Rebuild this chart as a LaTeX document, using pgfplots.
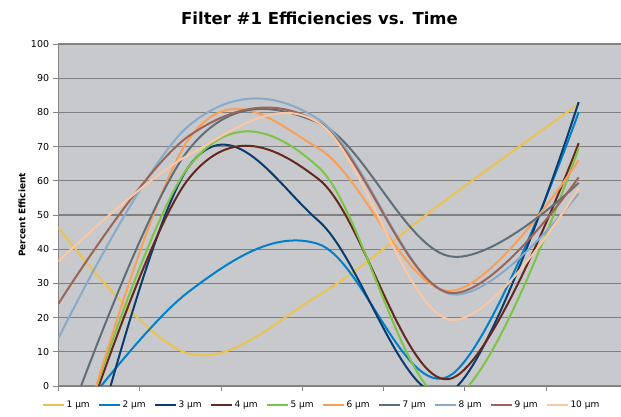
\documentclass[border=0pt]{standalone}
\usepackage{pgfplots}
\pgfplotsset{compat=1.18}
\usepackage{fontspec}
\setmainfont{DejaVu Sans}
\definecolor{plotbg}{RGB}{200,201,204}
\definecolor{gridgray}{RGB}{128,128,128}
\definecolor{axisgray}{RGB}{134,134,134}
\definecolor{cA}{RGB}{232,196,80}
\definecolor{cB}{RGB}{0,128,200}
\definecolor{cC}{RGB}{10,60,110}
\definecolor{cD}{RGB}{100,40,30}
\definecolor{cE}{RGB}{125,195,70}
\definecolor{cF}{RGB}{248,160,90}
\definecolor{cG}{RGB}{95,110,120}
\definecolor{cH}{RGB}{135,170,200}
\definecolor{cI}{RGB}{155,100,88}
\definecolor{cJ}{RGB}{250,200,165}
\begin{document}
\begin{tikzpicture}[x=1pt,y=1pt]
\path[use as bounding box] (0,0) rectangle (621,417);
\node[anchor=base, font=\bfseries\fontsize{16.5}{20}\selectfont] at (319.5,392) {Filter \#1 Efficiencies vs. Time};
\begin{axis}[
  at={(58.3pt,31pt)}, anchor=south west,
  scale only axis, width=585.4pt, height=342pt,
  xmin=0, xmax=7.2, ymin=0, ymax=100,
  xtick={0,1,...,7}, xticklabels={},
  ytick={0,10,...,100},
  ymajorgrids, grid style={draw=gridgray, line width=1.2pt},
  axis background/.style={fill=plotbg},
  axis line style={draw=axisgray, line width=1pt},
  tick style={draw=axisgray, line width=0.8pt},
  tick align=outside, major tick length=5pt, tick pos=left,
  /pgf/number format/assume math mode=true,
  yticklabel style={font=\fontsize{9.5}{11}\selectfont, inner xsep=0pt, xshift=-4pt},
  ylabel={Percent Efficient},
  ylabel style={font=\bfseries\fontsize{9}{11}\selectfont, at={(axis description cs:-0.062,0.5)}, anchor=center},
  every axis plot/.append style={smooth, tension=0.6, line width=2pt},
  legend columns=10,
  legend image code/.code={\draw[#1, line width=2pt] (0pt,0pt) -- (21pt,0pt);},
  legend style={draw=none, fill=none, at={(axis description cs:0.4496,-0.0544)}, anchor=center,
    font=\fontsize{9}{11}\selectfont,
    nodes={inner xsep=2pt},
    /tikz/every even column/.append style={column sep=5.9pt}},
]
\addplot[cA] coordinates {(0,46.4) (1.6,9.5) (3.2,26.5) (4.8,55) (6.4,82.5)};
\addplot[cB] coordinates {(0,-16) (1.6,27.5) (3.2,41.5) (4.8,2.8) (6.4,80)};
\addplot[cC] coordinates {(0,-58) (1.6,64) (3.2,48.3) (4.8,-2) (6.4,83)};
\addplot[cD] coordinates {(0,-35) (1.6,60.5) (3.2,60.5) (4.8,2) (6.4,71)};
\addplot[cE] coordinates {(0,-34) (1.6,64) (3.2,64) (4.8,-4) (6.4,69.5)};
\addplot[cF] coordinates {(0,-38) (1.6,72) (3.2,69.5) (4.8,27.8) (6.4,66)};
\addplot[cG] coordinates {(0,-18) (1.6,69) (3.2,77) (4.8,38) (6.4,59.4)};
\addplot[cH] coordinates {(0,13.9) (1.6,76) (3.2,78) (4.8,27) (6.4,56.3)};
\addplot[cI] coordinates {(0,24) (1.6,73) (3.2,77) (4.8,27.3) (6.4,61)};
\addplot[cJ] coordinates {(0,36.4) (1.6,67.5) (3.2,77) (4.8,19.5) (6.4,57.8)};
\legend{1 µm, 2 µm, 3 µm, 4 µm, 5 µm, 6 µm, 7 µm, 8 µm, 9 µm, 10 µm}
\end{axis}
\end{tikzpicture}
\end{document}
